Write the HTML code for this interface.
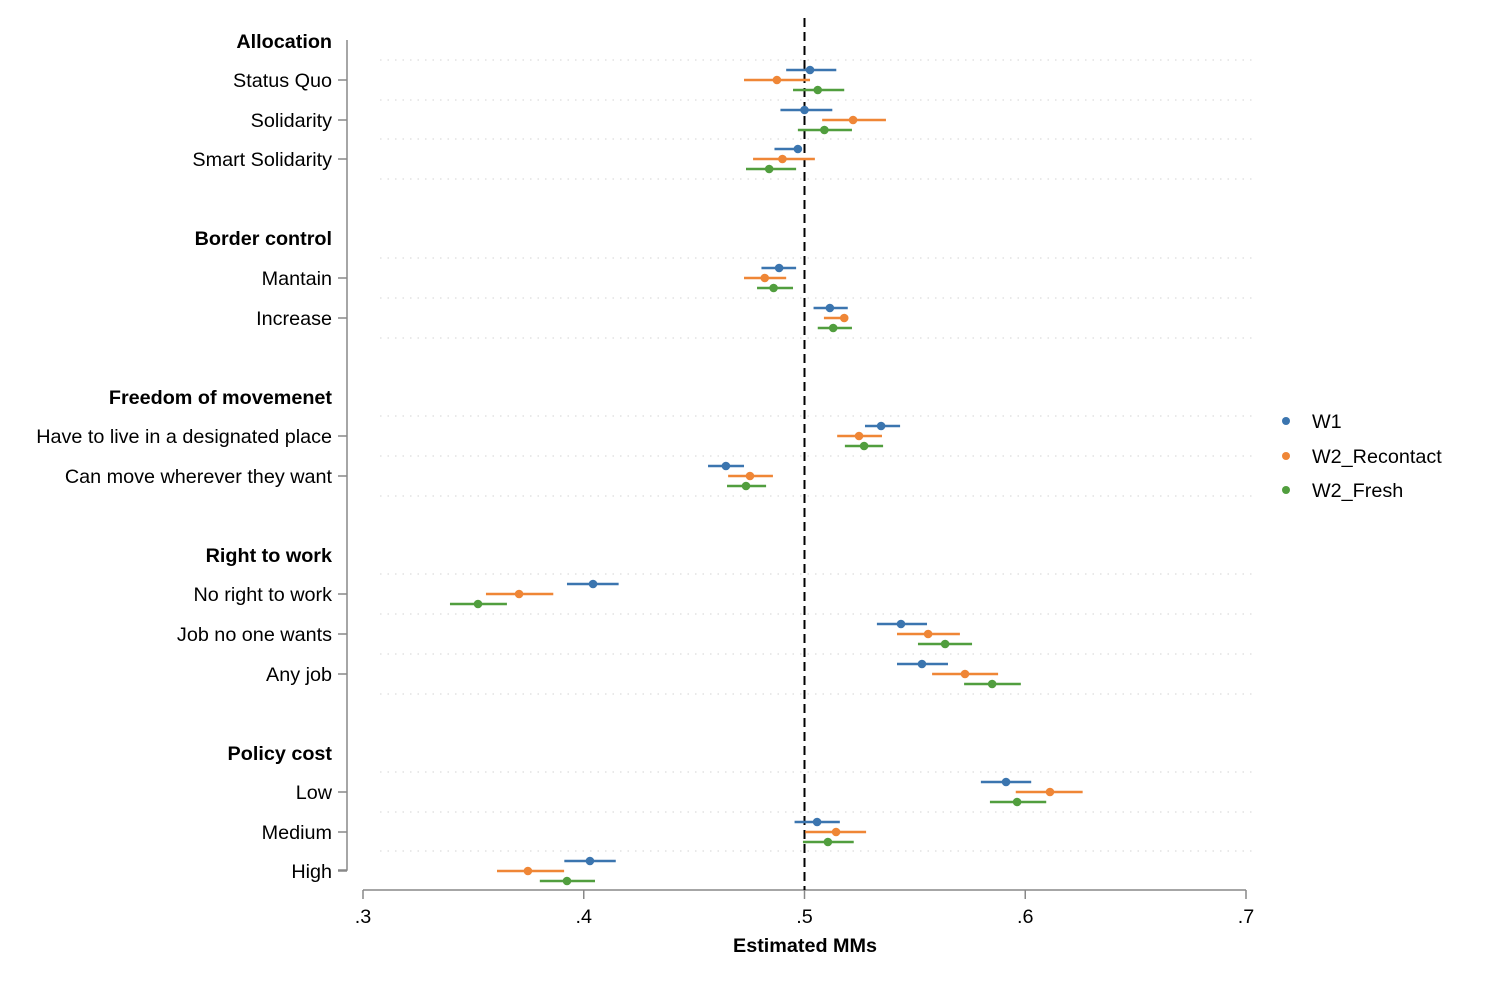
<!DOCTYPE html>
<html><head><meta charset="utf-8"><style>
body{margin:0;background:#fff;}
svg{display:block;font-family:"Liberation Sans",Arial,sans-serif;}
</style></head><body>
<svg id="chart" width="1486" height="986"></svg>
<script>
const rowLabels=["Allocation","Status Quo","Solidarity","Smart Solidarity","Border control","Mantain","Increase","Freedom of movemenet","Have to live in a designated place","Can move wherever they want","Right to work","No right to work","Job no one wants","Any job","Policy cost","Low","Medium","High"];
const isHeader=[1,0,0,0,1,0,0,1,0,0,1,0,0,0,1,0,0,0];
const rowY=[41,80,120,159,238,278,318,397,436,476,555,594,634,674,753,792,832,871];
const seriesNames=["W1","W2_Recontact","W2_Fresh"];
const seriesColors=["#3b75af","#ef8636","#519e3e"];
const estW1=[null,.5025,.500,.497,null,.4885,.5115,null,.5347,.4644,null,.4042,.5437,.5532,null,.5913,.5057,.4028];
const loW1=[null,.4917,.4891,.4864,null,.4805,.5041,null,.5274,.4563,null,.3924,.5328,.5419,null,.5799,.4955,.3912];
const hiW1=[null,.5144,.5126,.4972,null,.4962,.5196,null,.5433,.4726,null,.4158,.5555,.5650,null,.6027,.5160,.4145];
const estW2R=[null,.4875,.522,.490,null,.482,.518,null,.5247,.4753,null,.3707,.556,.5727,null,.6112,.5143,.3747];
const loW2R=[null,.4726,.5080,.4767,null,.4726,.5088,null,.5148,.4654,null,.3557,.5419,.5578,null,.5957,.5003,.3607];
const hiW2R=[null,.5025,.5369,.5047,null,.4917,.5187,null,.5351,.4857,null,.3862,.5704,.5877,null,.6260,.5279,.3911];
const estW2F=[null,.506,.509,.484,null,.486,.513,null,.527,.4735,null,.3521,.5637,.585,null,.5963,.5106,.3924];
const loW2F=[null,.4948,.4970,.4735,null,.4785,.5060,null,.5183,.4649,null,.3394,.5514,.5723,null,.5840,.4993,.3801];
const hiW2F=[null,.5180,.5215,.4962,null,.4948,.5215,null,.5356,.4826,null,.3652,.5759,.5980,null,.6095,.5223,.4051];
const xTicks=[.3,.4,.5,.6,.7];
const xTickLabels=[".3",".4",".5",".6",".7"];
const NS="http://www.w3.org/2000/svg";
const svg=document.getElementById("chart");
const FS=19.8;
const X=v=>363+(v-.3)*2207.5;
function el(tag,attrs,parent){const e=document.createElementNS(NS,tag);for(const k in attrs)e.setAttribute(k,attrs[k]);(parent||svg).appendChild(e);return e;}
const gridG=el("g",{});


for(let i=0;i<rowY.length;i++){
 if(isHeader[i])continue;
 el("line",{x1:380,x2:1256,y1:rowY[i]-20,y2:rowY[i]-20,stroke:"#dcdcdc","stroke-width":1.2,"stroke-dasharray":"1.5,6"},gridG);
 const next=i+1<rowY.length?isHeader[i+1]:1;
 if(next&&i<rowY.length-1){el("line",{x1:380,x2:1256,y1:rowY[i]+20,y2:rowY[i]+20,stroke:"#dcdcdc","stroke-width":1.2,"stroke-dasharray":"1.5,6"},gridG);}
}
const ya=el("path",{d:"M347,40 V870 H338",fill:"none",stroke:"#888","stroke-width":1.5});


for(let i=0;i<rowY.length;i++){
 if(!isHeader[i])el("line",{x1:338,x2:347,y1:rowY[i],y2:rowY[i],stroke:"#888","stroke-width":1.5});
 const t=el("text",{x:332,y:rowY[i]+7,"text-anchor":"end","font-size":FS,"font-weight":isHeader[i]?"bold":"normal",fill:"#000"});
 t.textContent=rowLabels[i];
 
 
}
const xa=el("line",{x1:363,x2:1246,y1:890,y2:890,stroke:"#888","stroke-width":1.5});


xTicks.forEach((v,i)=>{
 el("line",{x1:X(v),x2:X(v),y1:890,y2:899,stroke:"#888","stroke-width":1.5});
 const t=el("text",{x:X(v),y:923,"text-anchor":"middle","font-size":FS});
 t.textContent=xTickLabels[i];
 
 
});
const xt=el("text",{x:805,y:952,"text-anchor":"middle","font-size":FS,"font-weight":"bold"});
xt.textContent="Estimated MMs";


const ref=el("line",{x1:X(.5),x2:X(.5),y1:18,y2:890,stroke:"#000","stroke-width":2,"stroke-dasharray":"9,5"});


const est=[estW1,estW2R,estW2F],lo=[loW1,loW2R,loW2F],hi=[hiW1,hiW2R,hiW2F];
for(let s=0;s<3;s++){
 for(let i=0;i<rowY.length;i++){
  if(est[s][i]==null)continue;
  const y=rowY[i]+(s-1)*10;
  const ln=el("line",{x1:X(lo[s][i]),x2:X(hi[s][i]),y1:y,y2:y,stroke:seriesColors[s],"stroke-width":2.5});
  
  
  const c=el("circle",{cx:X(est[s][i]),cy:y,r:4.3,fill:seriesColors[s]});
  
  
 }
}
const legY=[421,456,490];
for(let s=0;s<3;s++){
 const c=el("circle",{cx:1286,cy:legY[s],r:4,fill:seriesColors[s]});
 
 
 const t=el("text",{x:1312,y:legY[s]+7,"font-size":FS});
 t.textContent=seriesNames[s];
 
 
}
</script>
</body></html>
